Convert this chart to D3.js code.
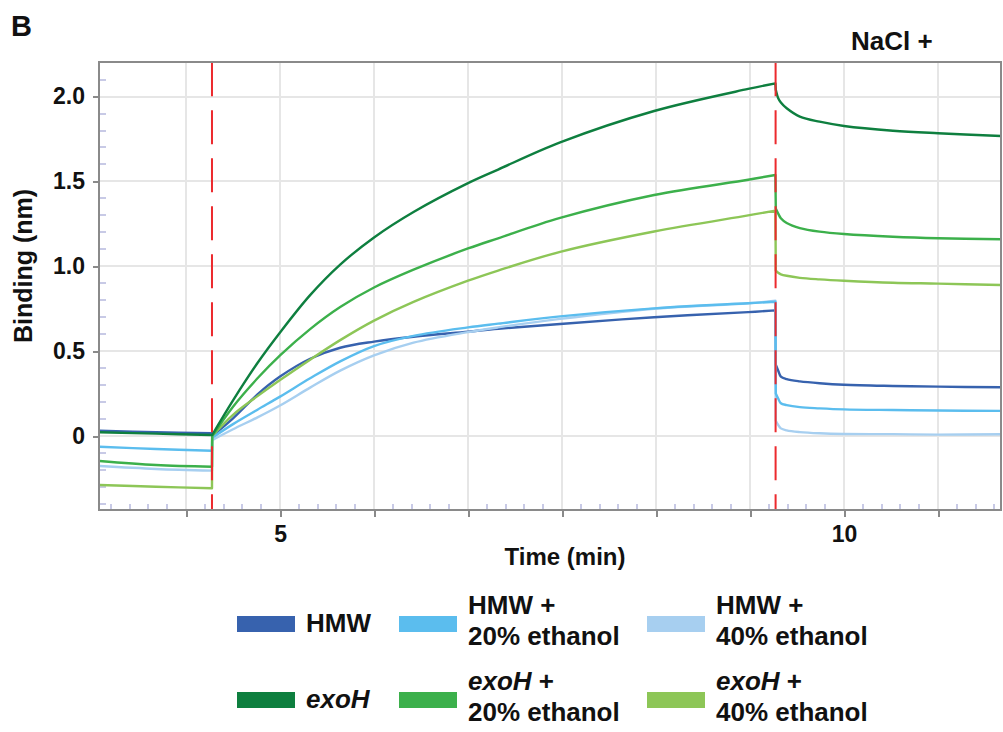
<!DOCTYPE html>
<meta charset="utf-8"/>
<head>
<script src="https://d3js.org/d3.v7.min.js"></script>
<style>
body { margin: 0; background: #fff; }
svg { display: block; font-family: "Liberation Sans", Arial, sans-serif; }
text { fill: #111; font-weight: bold; }
.grid line { stroke: #e6e6e6; stroke-width: 2px; shape-rendering: crispEdges; }
.minor { stroke: #c8cae6; stroke-width: 2px; shape-rendering: crispEdges; }
.axis path { display: none; }
.axis line { stroke: #8a8a8a; stroke-width: 2px; shape-rendering: crispEdges; }
.frame { fill: none; stroke: #8a8a8a; stroke-width: 2px; shape-rendering: crispEdges; }
.curve { fill: none; stroke-width: 2.4px; stroke-linejoin: round; }
.injection { stroke: #ec2a2e; stroke-width: 2px; stroke-dasharray: 34,14; }
</style>
</head>
<body>
<div id="chart"></div>
<script>

// time in seconds, binding in nm
var baseT  = [204, 234, 263.8];
var assocT = [263.9, 275, 288, 300, 316, 332, 350, 371, 400, 416, 449, 499, 549, 563.5];
var dissT  = [563.7, 565, 566.4, 569.5, 576.5, 587, 600, 626, 650, 683.5];

var seriesNames = ["HMW", "HMW + 20% ethanol", "HMW + 40% ethanol",
                   "exoH", "exoH + 20% ethanol", "exoH + 40% ethanol"];
var seriesColors = ["#3762ae", "#5bbdee", "#a7cff0", "#0e7f3f", "#3cb04b", "#8dc657"];

var hmwBase   = [0.031, 0.022, 0.016];
var hmwAssoc  = [0.0, 0.104, 0.245, 0.35, 0.455, 0.52, 0.556, 0.585, 0.615, 0.632, 0.66, 0.7, 0.73, 0.74];
var hmwDiss   = [0.42, 0.385, 0.35, 0.335, 0.322, 0.311, 0.302, 0.295, 0.291, 0.287];

var hmw20Base  = [-0.063, -0.077, -0.087];
var hmw20Assoc = [-0.01, 0.07, 0.155, 0.232, 0.34, 0.44, 0.53, 0.59, 0.64, 0.662, 0.705, 0.752, 0.782, 0.791];
var hmw20Diss  = [0.25, 0.22, 0.193, 0.182, 0.17, 0.163, 0.157, 0.153, 0.15, 0.148];

var hmw40Base  = [-0.177, -0.194, -0.204];
var hmw40Assoc = [-0.024, 0.04, 0.11, 0.18, 0.285, 0.385, 0.475, 0.55, 0.612, 0.64, 0.69, 0.75, 0.782, 0.797];
var hmw40Diss  = [0.09, 0.065, 0.045, 0.033, 0.023, 0.016, 0.012, 0.011, 0.008, 0.01];

var exoBase   = [0.022, 0.014, 0.006];
var exoAssoc  = [0.006, 0.21, 0.43, 0.61, 0.83, 1.01, 1.17, 1.32, 1.49, 1.57, 1.73, 1.915, 2.045, 2.078];
var exoDiss   = [2.04, 1.99, 1.965, 1.931, 1.882, 1.852, 1.827, 1.799, 1.784, 1.768];

var exo20Base  = [-0.147, -0.171, -0.181];
var exo20Assoc = [0.0, 0.173, 0.34, 0.475, 0.63, 0.76, 0.875, 0.98, 1.105, 1.165, 1.285, 1.42, 1.51, 1.538];
var exo20Diss  = [1.34, 1.31, 1.283, 1.255, 1.225, 1.204, 1.19, 1.174, 1.165, 1.159];

var exo40Base  = [-0.289, -0.299, -0.308];
var exo40Assoc = [0.0, 0.125, 0.235, 0.33, 0.45, 0.565, 0.68, 0.79, 0.915, 0.975, 1.085, 1.205, 1.3, 1.328];
var exo40Diss  = [0.975, 0.962, 0.953, 0.944, 0.932, 0.923, 0.915, 0.903, 0.898, 0.89];

var injections = [263.8, 563.6];
var xGridT = [250, 300, 350, 400, 450, 500, 550, 600, 650];
var xLabels = { 300: "5", 600: "10" };
var yTicks = [0, 0.5, 1.0, 1.5, 2.0];

var width = 1003, height = 732;

var x = d3.scaleLinear().domain([203.7, 683.5]).range([99, 1001]);
var y = d3.scaleLinear().domain([-0.436, 2.202]).range([510, 62.3]);

var svg = d3.select("#chart").append("svg")
    .attr("width", width)
    .attr("height", height);

// grid
var grid = svg.append("g").attr("class", "grid");
grid.selectAll(".vx").data(xGridT).enter().append("line")
    .attr("x1", function(d) { return x(d); }).attr("x2", function(d) { return x(d); })
    .attr("y1", y.range()[1]).attr("y2", y.range()[0]);
grid.selectAll(".hy").data(yTicks).enter().append("line")
    .attr("x1", x.range()[0]).attr("x2", x.range()[1])
    .attr("y1", function(d) { return y(d); }).attr("y2", function(d) { return y(d); });

// minor ticks, inside the frame
var yMinor = d3.range(-4, 22).map(function(i) { return i / 10; })
    .filter(function(v) { return Math.abs(v * 2 - Math.round(v * 2)) > 1e-6; });
svg.selectAll(".ym").data(yMinor).enter().append("line")
    .attr("class", "minor")
    .attr("x1", x.range()[0] + 1).attr("x2", x.range()[0] + 7)
    .attr("y1", function(d) { return Math.round(y(d)); }).attr("y2", function(d) { return Math.round(y(d)); });

var xMinor = d3.range(210, 684, 10).filter(function(t) { return t % 50 != 0; });
svg.selectAll(".xm").data(xMinor).enter().append("line")
    .attr("class", "minor")
    .attr("x1", function(d) { return Math.round(x(d)); }).attr("x2", function(d) { return Math.round(x(d)); })
    .attr("y1", y.range()[0] - 1).attr("y2", y.range()[0] - 6);

// curves: each phase smoothed, phases joined by straight steps
var smooth = d3.line()
    .x(function(d) { return x(d[0]); })
    .y(function(d) { return y(d[1]); })
    .curve(d3.curveCatmullRom.alpha(0.5));

function pairs(ts, vs) { return ts.map(function(t, i) { return [t, vs[i]]; }); }

function phasePath(b, a, dd) {
  var pb = pairs(baseT, b), pa = pairs(assocT, a), pd = pairs(dissT, dd);
  return smooth(pb) + "L" + smooth(pa).slice(1) + "L" + smooth(pd).slice(1);
}

var series = [
  [hmwBase, hmwAssoc, hmwDiss],
  [hmw20Base, hmw20Assoc, hmw20Diss],
  [hmw40Base, hmw40Assoc, hmw40Diss],
  [exoBase, exoAssoc, exoDiss],
  [exo20Base, exo20Assoc, exo20Diss],
  [exo40Base, exo40Assoc, exo40Diss]
];

var drawOrder = [0, 2, 1, 5, 4, 3];
svg.append("g").selectAll("path").data(drawOrder).enter().append("path")
    .attr("class", "curve")
    .attr("stroke", function(i) { return seriesColors[i]; })
    .attr("d", function(i) { return phasePath(series[i][0], series[i][1], series[i][2]); });

// injection markers
svg.selectAll(".injection").data(injections).enter().append("line")
    .attr("class", "injection")
    .attr("x1", function(d) { return x(d); }).attr("x2", function(d) { return x(d); })
    .attr("y1", y.range()[1]).attr("y2", y.range()[0]);

// frame
svg.append("rect").attr("class", "frame")
    .attr("x", x.range()[0]).attr("y", y.range()[1])
    .attr("width", x.range()[1] - x.range()[0])
    .attr("height", y.range()[0] - y.range()[1]);

// axes
var xAxis = d3.axisBottom(x)
    .tickValues(xGridT)
    .tickSize(7).tickPadding(9)
    .tickFormat(function(d) { return xLabels[d] || ""; });
svg.append("g").attr("class", "axis")
    .attr("transform", "translate(0," + y.range()[0] + ")")
    .call(xAxis)
    .selectAll("text").style("font-size", "23px").style("font-family", "Liberation Sans, Arial").attr("fill", "#111");

var yAxis = d3.axisLeft(y)
    .tickValues(yTicks)
    .tickSize(6).tickPadding(8)
    .tickFormat(function(d) { return d == 0 ? "0" : d3.format(".1f")(d); });
svg.append("g").attr("class", "axis")
    .attr("transform", "translate(" + x.range()[0] + ",0)")
    .call(yAxis)
    .selectAll("text").style("font-size", "23px").style("font-family", "Liberation Sans, Arial").attr("fill", "#111");

// titles
svg.append("text").attr("x", 11).attr("y", 36).style("font-size", "29px").text("B");
svg.append("text").attr("x", 851).attr("y", 50).style("font-size", "26px").text("NaCl +");
svg.append("text").attr("x", 565).attr("y", 565).attr("text-anchor", "middle")
    .style("font-size", "24px").text("Time (min)");
svg.append("text").attr("transform", "translate(32,266) rotate(-90)").attr("text-anchor", "middle")
    .style("font-size", "25px").text("Binding (nm)");

// legend
var legendCols = [237, 399, 647];
var legendRows = [624, 700];
var legend = svg.append("g");
seriesNames.forEach(function(name, i) {
  var cx = legendCols[i % 3], cy = legendRows[Math.floor(i / 3)];
  legend.append("rect")
      .attr("x", cx).attr("y", cy - 8)
      .attr("width", 58).attr("height", 16)
      .attr("fill", seriesColors[i]);
  var parts = name.split(" + ");
  var t = legend.append("text").attr("x", cx + 69).style("font-size", "26px");
  var italic = parts[0] == "exoH";
  if (parts.length == 1) {
    t.attr("y", cy + 8).style("font-style", italic ? "italic" : "normal").text(parts[0]);
  } else {
    t.attr("y", cy - 10);
    t.append("tspan").style("font-style", italic ? "italic" : "normal").text(parts[0]);
    t.append("tspan").text(" +");
    t.append("tspan").attr("x", cx + 69).attr("y", cy + 21).text(parts[1]);
  }
});

</script>
</body>
